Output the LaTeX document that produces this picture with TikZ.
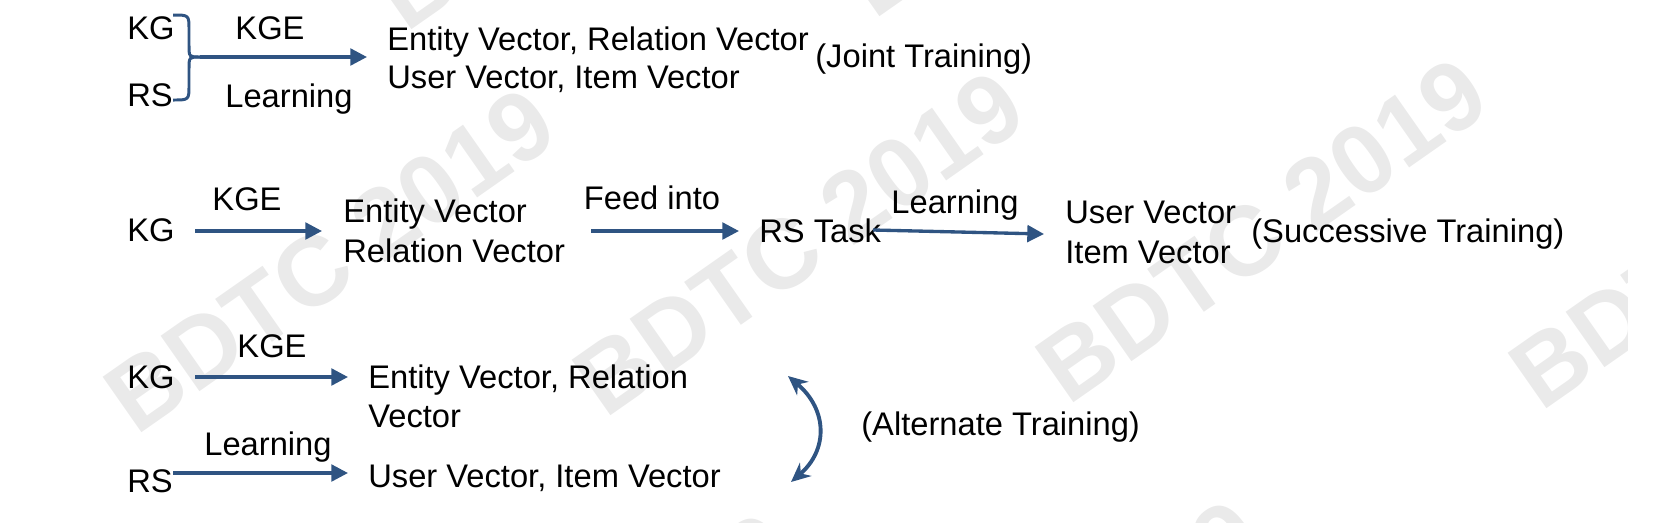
\documentclass[tikz,border=0pt]{standalone}
\usepackage{fontspec}
\setmainfont{Liberation Sans}
\usetikzlibrary{arrows.meta}
\definecolor{arrowblue}{RGB}{47,84,130}
\definecolor{wmgray}{RGB}{234,234,234}
\begin{document}
\begin{tikzpicture}[x=0.02cm,y=-0.02cm,
  txt/.style={inner sep=0pt,font=\fontsize{18.6}{22}\selectfont},
  flow/.style={arrowblue,line width=1.9pt,-{Triangle[length=9.5pt,width=9.5pt]}}]
 \useasboundingbox (0,0) rectangle (1670,522);
 % watermark
 \begin{scope}
  \clip (0,0) rectangle (1627,522);
  \foreach \wx/\wy in {330/260,799/243,1262/230,1735/236,600/-143,1068/-156,100/698,568/685,1036/672}
   \node[wmgray,rotate=35,font=\fontsize{56}{60}\selectfont\bfseries] at (\wx,\wy) {BDTC 2019};
 \end{scope}
 % joint training
 \node[txt,anchor=base west] (kgA) at (127,39) {KG};
 \node[txt,anchor=base west] (rsA) at (127,106) {RS};
 \node[txt,anchor=base] (kgeA) at (270,39) {KGE};
 \node[txt,anchor=base] (lrnA) at (289,107) {Learning};
 \node[txt,anchor=base west] (vecA1) at (387,50) {Entity Vector, Relation Vector};
 \node[txt,anchor=base west] (vecA2) at (387,88) {User Vector, Item Vector};
 \node[txt,anchor=base west] (jointA) at (815,67) {(Joint Training)};
 \coordinate (jn) at (200,57); \coordinate (jnEnd) at (367,57);
 \draw[arrowblue,line width=1.7pt] (173,15) .. controls (189,15) .. (189,30) -- (189,45) .. controls (189,57) .. (jn);
 \draw[arrowblue,line width=1.7pt] (173,100) .. controls (189,100) .. (189,85) -- (189,69) .. controls (189,57) .. (jn);
 \draw[flow] (jn) -- (jnEnd);
 % successive training
 \node[txt,anchor=base west] (kgB) at (127,241) {KG};
 \node[txt,anchor=base] (kgeB) at (247,210) {KGE};
 \node[txt,anchor=base west] (evB) at (343,222) {Entity Vector};
 \node[txt,anchor=base west] (rvB) at (343,262) {Relation Vector};
 \node[txt,anchor=base] (feedB) at (652,209) {Feed into};
 \node[txt,anchor=base west] (taskB) at (759,242) {RS Task};
 \node[txt,anchor=base] (lrnB) at (955,213) {Learning};
 \node[txt,anchor=base west] (uvB) at (1065,223) {User Vector};
 \node[txt,anchor=base west] (ivB) at (1065,263) {Item Vector};
 \node[txt,anchor=base west] (succB) at (1251,242) {(Successive Training)};
 \coordinate (b1) at (195,231); \coordinate (b2) at (322,231);
 \coordinate (b3) at (591,231); \coordinate (b4) at (739,231);
 \coordinate (b5) at (873,230); \coordinate (b6) at (1044,234);
 \draw[flow] (b1) -- (b2);
 \draw[flow] (b3) -- (b4);
 \draw[flow] (b5) -- (b6);
 % alternate training
 \node[txt,anchor=base west] (kgC) at (127,388) {KG};
 \node[txt,anchor=base] (kgeC) at (272,357) {KGE};
 \node[txt,anchor=base west] (evC) at (368,388) {Entity Vector, Relation};
 \node[txt,anchor=base west] (vC) at (368,427) {Vector};
 \node[txt,anchor=base] (lrnC) at (268,455) {Learning};
 \node[txt,anchor=base west] (rsC) at (127,492) {RS};
 \node[txt,anchor=base west] (uvC) at (368,487) {User Vector, Item Vector};
 \node[txt,anchor=base west] (altC) at (861,435) {(Alternate Training)};
 \coordinate (c1) at (195,377); \coordinate (c2) at (348,377);
 \coordinate (c3) at (173,473); \coordinate (c4) at (348,473);
 \coordinate (c5) at (788,376); \coordinate (c6) at (791,482);
 \draw[flow] (c1) -- (c2);
 \draw[flow] (c3) -- (c4);
 \draw[arrowblue,line width=2.2pt,{Stealth[length=11pt,width=10pt]}-{Stealth[length=11pt,width=10pt]}]
  (c5) .. controls (828,410) and (828,450) .. (c6);
\end{tikzpicture}
\end{document}
